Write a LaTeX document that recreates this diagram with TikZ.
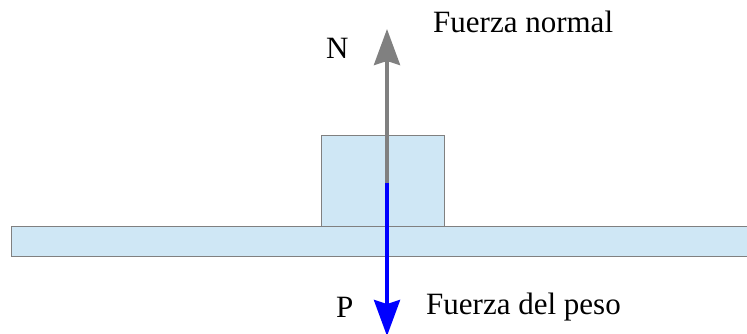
\documentclass[tikz,border=0pt]{standalone}
\usepackage{fontspec}
\setmainfont{Liberation Serif}
\newfontfamily\lblfont{Liberation Serif}
\usetikzlibrary{arrows.meta}
\definecolor{lightblue}{RGB}{207,231,245}
\definecolor{edgegray}{RGB}{128,128,128}
\tikzset{
	solid/.style={draw=edgegray, line width=1pt, fill=lightblue},
	force/.style={line width=3.8pt, -{Stealth[length=36pt, width=26pt, inset=4pt]}},
	lbl/.style={anchor=base west, inner sep=0pt, font=\lblfont\fontsize{31}{31}\selectfont}
}
\begin{document}
\begin{tikzpicture}[x=1pt, y=-1pt]
		%%%%% START %%%%%
		\useasboundingbox (0, 0) rectangle (747, 333);
		
		\draw[solid] (11, 226) rectangle (760, 256);
		\draw[solid] (321, 135) rectangle (444, 226);
		
		\coordinate (c) at (387, 183);
		\coordinate (ntip) at (387, 29);
		\coordinate (ptip) at (387, 336);
		
		\draw[force, color=edgegray] (c) -- (ntip);
		\draw[force, color=blue] (c) -- (ptip);
		
		\node[lbl] (n) at (326, 58) {N};
		\node[lbl] (normal) at (433, 32) {Fuerza normal};
		\node[lbl] (p) at (336, 317) {P};
		\node[lbl] (peso) at (426, 314) {Fuerza del peso};
		%%%%% END %%%%%
\end{tikzpicture}
\end{document}
